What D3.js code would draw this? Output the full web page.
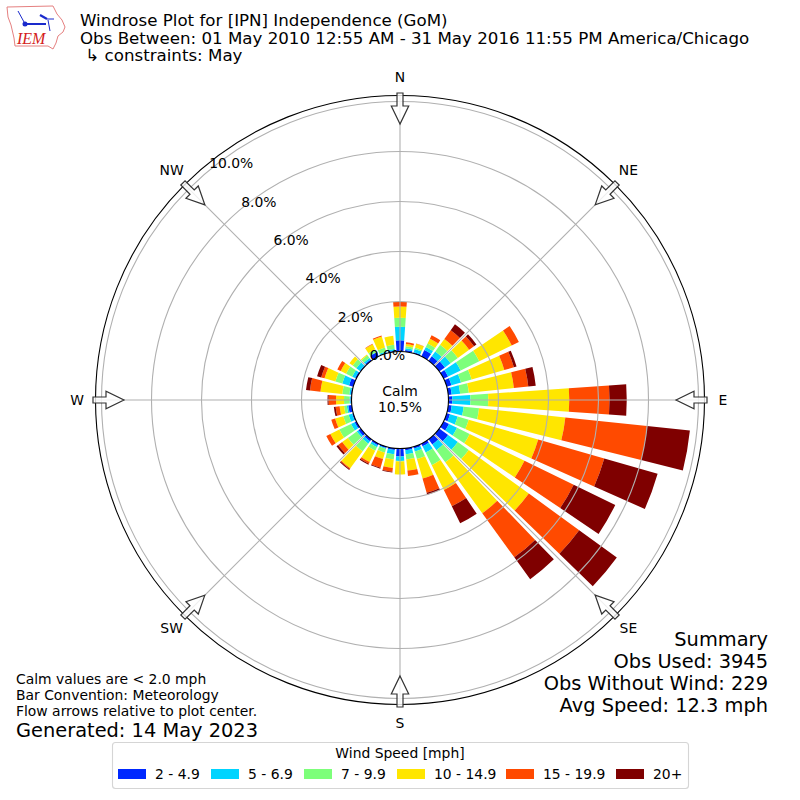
<!DOCTYPE html>
<html>
<head>
<meta charset="utf-8">
<script src="https://cdn.jsdelivr.net/npm/d3@7"></script>
<style>
  html, body { margin: 0; padding: 0; background: #fff; }
  svg { display: block; }
  text { font-family: "DejaVu Sans", sans-serif; fill: #000; }
</style>
</head>
<body>
<svg id="main_chart" width="800" height="800"></svg>
<script>
(function() {
  // direction of each bar, degrees from north
  const directions = [0, 10, 20, 30, 40, 50, 60, 70, 80, 90, 100, 110, 120, 130, 140, 150, 160, 170,
    180, 190, 200, 210, 220, 230, 240, 250, 260, 270, 280, 290, 300, 310, 320, 330, 340, 350];

  const speed_2_5 = [.45, .07, .05, .28, .22, .28, .20, .20, .14, .15, .14, .14, .24, .44, .26, .12, .08, .08,
    .32, .07, .06, .08, .10, .12, .08, .05, .14, .04, .04, .18, .06, .04, .06, .18, .03, .04];
  const speed_5_7 = [.54, .07, .13, .14, .24, .28, .56, .40, .34, .73, .48, .32, .36, .48, .28, .28, .12, .16,
    .18, .17, .04, .08, .12, .08, .16, .15, .06, .04, .06, .28, .13, .18, .08, .02, .05, .07];
  const speed_7_10 = [.36, .08, .06, .15, .33, .36, .83, .44, .35, .71, .62, .46, .56, .54, .60, .56, .32, .21,
    .02, .21, .15, .16, .38, .44, .52, .22, .11, .22, .28, .29, .27, .18, .13, .12, .16, .17];
  const speed_10_15 = [.45, .09, .16, .22, .29, .56, 1.44, 1.36, 1.81, 3.24, 3.47, 2.89, 2.44, 2.97, 2.52, 1.10, .81, .45,
    .52, .34, .27, .50, .84, .28, .40, .34, .18, .32, .88, .45, .24, .16, .04, .22, .46, .36];
  const speed_15_20 = [.19, .07, .01, .15, .43, .24, .32, .40, .58, 1.61, 3.29, 2.75, 2.19, 2.49, 2.18, .73, .59, .22,
    0, .16, .36, .08, .04, .20, .18, .16, .16, .30, .42, .14, .15, 0, 0, .02, .04, 0];
  const speed_20 = [0, 0, 0, 0, .29, .12, 0, .11, .30, .69, 1.72, 2.22, 1.85, 1.86, 1.08, .76, .08, 0,
    0, .03, .04, .04, .04, .08, 0, 0, .07, .04, .16, .17, 0, 0, 0, 0, 0, 0];

  const speed_series = [speed_2_5, speed_5_7, speed_7_10, speed_10_15, speed_15_20, speed_20];
  const speed_labels = ['2 - 4.9', '5 - 6.9', '7 - 9.9', '10 - 14.9', '15 - 19.9', '20+'];
  const speed_colors = ['#0028ff', '#00d4ff', '#7dff7a', '#ffe600', '#ff4a00', '#7f0000'];

  const r_ticks = [0, 2, 4, 6, 8, 10];
  const compass_names = ['N', 'NE', 'E', 'SE', 'S', 'SW', 'W', 'NW'];
  const compass_angles = [0, 45, 90, 135, 180, 225, 270, 315];
  const title_lines = ['Windrose Plot for [IPN] Independence (GoM)',
    'Obs Between: 01 May 2010 12:55 AM - 31 May 2016 11:55 PM America/Chicago',
    '\u00a0\u21b3 constraints: May'];
  const summary_lines = ['Summary', 'Obs Used: 3945', 'Obs Without Wind: 229', 'Avg Speed: 12.3 mph'];
  const note_lines = ['Calm values are < 2.0 mph', 'Bar Convention: Meteorology', 'Flow arrows relative to plot center.'];

  const svg = d3.select('#main_chart');
  const cx = 400;
  const cy = 400;
  const rad = Math.PI / 180;
  const rScale = d3.scaleLinear().domain([0, 10.24]).range([48.5, 304.5]);
  const polar = function(angle, r) {
    return [cx + r * Math.sin(angle * rad), cy - r * Math.cos(angle * rad)];
  };

  // bars
  const rows = directions.map(function(d, i) {
    const row = {direction: d};
    speed_labels.forEach(function(label, j) { row[label] = speed_series[j][i]; });
    return row;
  });
  const stacked = d3.stack().keys(speed_labels)(rows);
  const arc = d3.arc();
  const plot = svg.append('g').attr('transform', 'translate(' + cx + ',' + cy + ')');
  stacked.forEach(function(layer, j) {
    plot.append('g').selectAll('path').data(layer).enter().append('path')
      .attr('fill', speed_colors[j])
      .attr('d', function(d) {
        const a = d.data.direction * rad;
        return arc({
          innerRadius: rScale(d[0]),
          outerRadius: rScale(d[1]),
          startAngle: a - 4 * rad,
          endAngle: a + 4 * rad
        });
      });
  });

  // grid on top of the bars
  plot.append('g').selectAll('circle').data(r_ticks.slice(1)).enter().append('circle')
    .attr('r', function(d) { return rScale(d); })
    .attr('fill', 'none').attr('stroke', '#b0b0b0').attr('stroke-width', 1.1);
  plot.append('g').selectAll('line').data(compass_angles).enter().append('line')
    .attr('x1', function(d) { return polar(d, rScale(0))[0] - cx; })
    .attr('y1', function(d) { return polar(d, rScale(0))[1] - cy; })
    .attr('x2', function(d) { return polar(d, rScale.range()[1])[0] - cx; })
    .attr('y2', function(d) { return polar(d, rScale.range()[1])[1] - cy; })
    .attr('stroke', '#b0b0b0').attr('stroke-width', 1.1);
  plot.append('circle').attr('r', rScale.range()[1]).attr('fill', 'none').attr('stroke', '#000').attr('stroke-width', 1.1);
  plot.append('circle').attr('r', rScale(0)).attr('fill', '#fff').attr('stroke', '#000').attr('stroke-width', 1.1);

  // flow arrows pointing at the center
  const arrow_tip = 276;
  const arrow_neck = 294;
  const arrow_tail = 307;
  plot.append('g').selectAll('path').data(compass_angles).enter().append('path')
    .attr('transform', function(d) { return 'rotate(' + d + ')'; })
    .attr('d', 'M0,' + (-arrow_tip) + 'L-8.7,' + (-arrow_neck) + 'L-3,' + (-arrow_neck) + 'L-3,' + (-arrow_tail) +
      'L3,' + (-arrow_tail) + 'L3,' + (-arrow_neck) + 'L8.7,' + (-arrow_neck) + 'Z')
    .attr('fill', '#fff').attr('fill-opacity', 0.8).attr('stroke', '#333').attr('stroke-width', 1.2);

  // compass labels, the two upper diagonals sit a little higher
  svg.append('g').selectAll('text').data(compass_angles).enter().append('text')
    .attr('x', function(d) { return polar(d, 323)[0]; })
    .attr('y', function(d) { return polar(d, 323)[1] + (d === 45 || d === 315 ? 3 : 5); })
    .attr('text-anchor', 'middle').style('font-size', '13.9px')
    .text(function(d, i) { return compass_names[i]; });

  // radial labels
  svg.append('g').selectAll('text').data(r_ticks).enter().append('text')
    .attr('x', function(d) { return polar(-40, rScale(d))[0] + 1; })
    .attr('y', function(d) { return polar(-40, rScale(d))[1] - 3; })
    .style('font-size', '13.9px')
    .text(function(d) { return d.toFixed(1) + '%'; });

  // calm text
  svg.append('text').attr('x', cx).attr('y', 396).attr('text-anchor', 'middle').style('font-size', '13.9px').text('Calm');
  svg.append('text').attr('x', cx).attr('y', 412).attr('text-anchor', 'middle').style('font-size', '13.9px').text('10.5%');

  // titles
  svg.append('g').selectAll('text').data(title_lines).enter().append('text')
    .attr('x', 80)
    .attr('y', function(d, i) { return 26 + i * 17.6; })
    .style('font-size', '16.67px')
    .text(function(d) { return d; });

  svg.append('g').selectAll('text').data(summary_lines).enter().append('text')
    .attr('x', 768)
    .attr('y', function(d, i) { return 646 + i * 22; })
    .attr('text-anchor', 'end').style('font-size', '19.4px')
    .text(function(d) { return d; });

  svg.append('g').selectAll('text').data(note_lines).enter().append('text')
    .attr('x', 16)
    .attr('y', function(d, i) { return 684 + i * 16; })
    .style('font-size', '13.9px')
    .text(function(d) { return d; });
  svg.append('text').attr('x', 16).attr('y', 737).style('font-size', '19.4px').text('Generated: 14 May 2023');

  // legend
  const legend_x = [118, 211, 304, 397, 506, 616];
  const legend = svg.append('g');
  legend.append('rect').attr('x', 112.5).attr('y', 742.5).attr('width', 576).attr('height', 46).attr('rx', 3)
    .attr('fill', '#fff').attr('stroke', '#d5d5d5').attr('stroke-width', 1.1);
  legend.append('text').attr('x', 400).attr('y', 758).attr('text-anchor', 'middle').style('font-size', '13.9px').text('Wind Speed [mph]');
  legend.append('g').selectAll('rect').data(speed_labels).enter().append('rect')
    .attr('x', function(d, i) { return legend_x[i]; })
    .attr('y', 769).attr('width', 28).attr('height', 10)
    .attr('fill', function(d, i) { return speed_colors[i]; });
  legend.append('g').selectAll('text').data(speed_labels).enter().append('text')
    .attr('x', function(d, i) { return legend_x[i] + 37; })
    .attr('y', 779).style('font-size', '13.9px')
    .text(function(d) { return d; });

  // IEM logo
  const logo = svg.append('g');
  logo.append('path')
    .attr('d', 'M7,7 L53,6 L57,14 L62,20 L65,27 L63,32 L58,36 L56,43 L53,49 L48,46 L15,46 L14,38 L11,25 L8,17 Z')
    .attr('fill', '#fff').attr('stroke', '#e58080').attr('stroke-width', 1);
  logo.append('path').attr('d', 'M18,11 L24,22 M47,19 L54,19 M48,20 L50,31')
    .attr('fill', 'none').attr('stroke', '#1a2acc').attr('stroke-width', 1);
  logo.append('path').attr('d', 'M25,24 L46,24 M40,15 L47,19')
    .attr('fill', 'none').attr('stroke', '#1a2acc').attr('stroke-width', 2.2);
  logo.append('circle').attr('cx', 25).attr('cy', 24).attr('r', 2.5).attr('fill', '#1a2acc');
  logo.append('text').attr('x', 17).attr('y', 44).style('font-family', '"Liberation Serif", serif')
    .style('font-style', 'italic').style('font-size', '16px').style('fill', '#d42020').text('IEM');
}());
</script>
</body>
</html>
